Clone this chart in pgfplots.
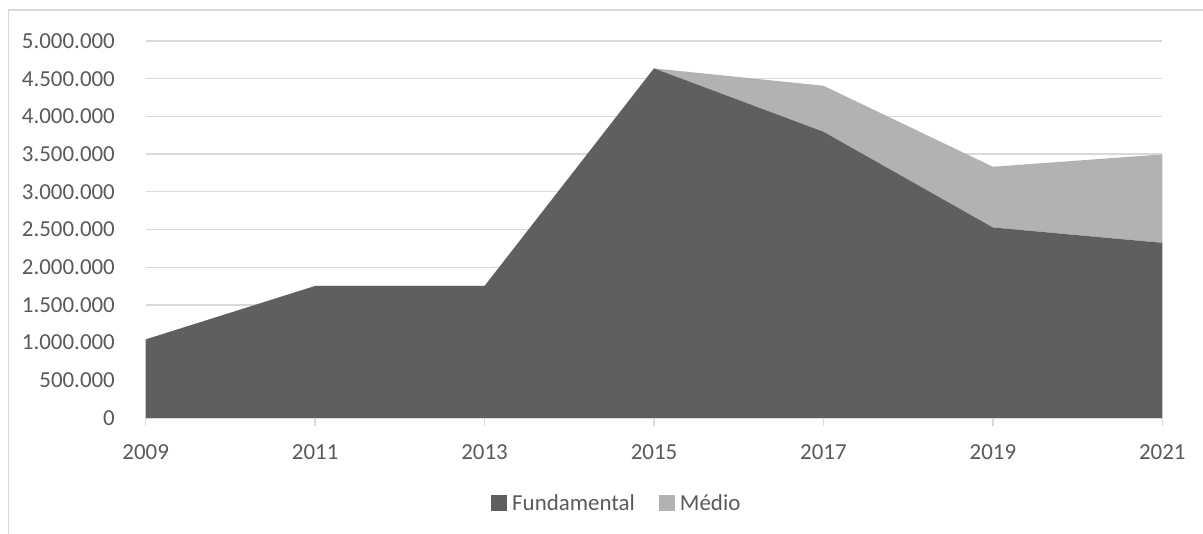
\documentclass[border=0pt]{standalone}
\usepackage{pgfplots}
\pgfplotsset{compat=1.18}
\usepackage{fontspec}
\setmainfont{Carlito}

\definecolor{fundcol}{HTML}{5F5F5F}
\definecolor{mediocol}{HTML}{B2B2B2}
\definecolor{gridcol}{HTML}{D9D9D9}
\definecolor{txtcol}{HTML}{595959}

\begin{document}
\begin{tikzpicture}
  % page frame
  \path[use as bounding box] (0,0) rectangle (1203bp,534bp);
  \draw[gridcol, line width=1.3bp] (8.3bp,-20bp) -- (8.3bp,524bp) -- (1240bp,524bp);

  \begin{axis}[
    at={(145.7bp,116bp)}, anchor=south west,
    scale only axis,
    width=1016.6bp, height=377bp,
    xmin=2009, xmax=2021,
    ymin=0, ymax=5000000,
    xtick={2009,2011,...,2021},
    ytick={0,500000,...,5000000},
    scaled y ticks=false,
    stack plots=y,
    area style,
    axis on top=false,
    axis lines*=left,
    x axis line style={draw=gridcol, line width=1.3bp},
    y axis line style={draw=none},
    tick align=outside,
    major tick length=8bp,
    xtick style={draw=gridcol, line width=1.3bp},
    ytick style={draw=none},
    ymajorgrids,
    grid style={draw=gridcol, line width=1.3bp},
    font=\fontsize{23}{28}\selectfont,
    tick label style={text=txtcol, inner sep=0pt},
    /pgf/number format/assume math mode=true,
    yticklabel style={/pgf/number format/fixed, /pgf/number format/precision=0,
      /pgf/number format/1000 sep={.}, xshift=-22.7bp},
    xticklabel style={/pgf/number format/1000 sep={}, yshift=-18bp},
    legend columns=2,
    legend style={
      at={(0.4634,-0.2255)}, anchor=center,
      draw=none, fill=none,
      font=\fontsize{23}{28}\selectfont, text=txtcol,
      /tikz/every even column/.append style={column sep=22bp},
    },
    legend image code/.code={\fill[#1] (0bp,-8bp) rectangle (16bp,8bp);},
  ]
    \addplot[fill=fundcol, draw=none] coordinates {
      (2009,1042000) (2011,1751000) (2013,1751000) (2015,4637000)
      (2017,3796000) (2019,2527000) (2021,2323000)
    } \closedcycle;
    \addplot[fill=mediocol, draw=none] coordinates {
      (2009,0) (2011,0) (2013,0) (2015,0)
      (2017,611000) (2019,805000) (2021,1173000)
    } \closedcycle;
    \legend{\hspace{3bp}Fundamental, \hspace{3bp}Médio}
  \end{axis}
\end{tikzpicture}
\end{document}
